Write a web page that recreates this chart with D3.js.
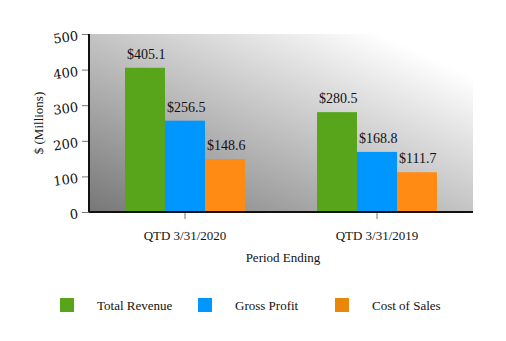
<!DOCTYPE html>
<html>
<head>
<meta charset="utf-8">
<script src="https://cdn.jsdelivr.net/npm/d3@7"></script>
<style>
  body { margin: 0; background: #fff; }
  text { font-family: "Liberation Serif", "DejaVu Serif", serif; fill: #111; }
</style>
</head>
<body>
<div id="chart"></div>
<script>
// data
const periods = ["QTD 3/31/2020", "QTD 3/31/2019"];
const seriesNames = ["Total Revenue", "Gross Profit", "Cost of Sales"];
const totalRevenue = [405.1, 280.5];
const grossProfit = [256.5, 168.8];
const costOfSales = [148.6, 111.7];
const yTicks = [0, 100, 200, 300, 400, 500];

const colors = ["#58a51c", "#0096ff", "#ff8a14"];
const legendColors = ["#58a51c", "#0096ff", "#ea860a"];

const width = 506, height = 341;
const margin = { top: 34, right: 33, bottom: 129, left: 89 };
const innerW = width - margin.left - margin.right;
const innerH = height - margin.top - margin.bottom;

const svg = d3.select("#chart")
    .append("svg")
    .attr("width", width)
    .attr("height", height);

// background gradient of the plot area
const defs = svg.append("defs");
const grad = defs.append("linearGradient")
    .attr("id", "bg")
    .attr("x1", 0).attr("y1", 1)
    .attr("x2", 1).attr("y2", 0);
grad.append("stop").attr("offset", "0%").attr("stop-color", "#777777");
grad.append("stop").attr("offset", "50%").attr("stop-color", "#c4c4c4");
grad.append("stop").attr("offset", "88%").attr("stop-color", "#ffffff");
grad.append("stop").attr("offset", "100%").attr("stop-color", "#ffffff");

const g = svg.append("g")
    .attr("transform", `translate(${margin.left},${margin.top})`);

g.append("rect")
    .attr("width", innerW)
    .attr("height", innerH)
    .attr("fill", "url(#bg)");

// scales
const x0 = d3.scaleBand()
    .domain(periods)
    .range([0, innerW])
    .paddingInner(0.375)
    .paddingOuter(0.1875);

const x1 = d3.scaleBand()
    .domain(seriesNames)
    .range([0, x0.bandwidth()]);

const y = d3.scaleLinear()
    .domain([0, 500])
    .range([innerH, 0]);

const rows = periods.map((p, i) => ({
    period: p,
    values: [totalRevenue[i], grossProfit[i], costOfSales[i]]
}));

// bars
const groups = g.selectAll(".grp")
    .data(rows)
    .join("g")
    .attr("transform", d => `translate(${x0(d.period)},0)`);

groups.selectAll("rect")
    .data(d => d.values.map((v, k) => ({ name: seriesNames[k], value: v, k: k })))
    .join("rect")
    .attr("x", d => x1(d.name))
    .attr("y", d => y(d.value))
    .attr("width", x1.bandwidth())
    .attr("height", d => innerH - y(d.value))
    .attr("fill", d => colors[d.k]);

groups.selectAll(".lbl")
    .data(d => d.values.map((v, k) => ({ name: seriesNames[k], value: v, k: k })))
    .join("text")
    .attr("class", "lbl")
    .attr("x", d => x1(d.name) + 2)
    .attr("y", d => y(d.value) - 9)
    .style("font-size", "14px")
    .text(d => "$" + d.value.toFixed(1));

// axes
const yAxis = g.append("g")
    .call(d3.axisLeft(y).tickValues(yTicks).tickSize(7).tickPadding(4));
yAxis.select(".domain").remove();
yAxis.selectAll(".tick line").attr("stroke", "#777");
yAxis.selectAll(".tick text")
    .style("font-size", "13px")
    .style("font-family", "'DejaVu Serif', serif")
    .attr("transform", "rotate(-8)");

const xAxis = g.append("g")
    .attr("transform", `translate(0,${innerH})`)
    .call(d3.axisBottom(x0).tickSize(7).tickPadding(12));
xAxis.select(".domain").remove();
xAxis.selectAll(".tick line").attr("stroke", "#777");
xAxis.selectAll(".tick text").style("font-size", "13px");

// axis lines
g.append("line")
    .attr("x1", 0).attr("x2", 0)
    .attr("y1", 0).attr("y2", innerH)
    .attr("stroke", "#111").attr("stroke-width", 2);
g.append("line")
    .attr("x1", 0).attr("x2", innerW)
    .attr("y1", innerH).attr("y2", innerH)
    .attr("stroke", "#111").attr("stroke-width", 2);

// axis titles
svg.append("text")
    .attr("transform", `translate(43,${margin.top + innerH / 2}) rotate(-90)`)
    .style("text-anchor", "middle")
    .style("font-size", "13px")
    .text("$ (Millions)");

svg.append("text")
    .attr("x", margin.left + innerW / 2 + 2)
    .attr("y", 262)
    .style("text-anchor", "middle")
    .style("font-size", "13px")
    .text("Period Ending");

// legend
const legendX = [60, 198, 335];
const legend = svg.selectAll(".leg")
    .data(seriesNames)
    .join("g")
    .attr("transform", (d, i) => `translate(${legendX[i]},298)`);
legend.append("rect")
    .attr("width", 14).attr("height", 14)
    .attr("fill", (d, i) => legendColors[i]);
legend.append("text")
    .attr("x", 37)
    .attr("y", 11.5)
    .style("font-size", "13px")
    .text(d => d);
</script>
</body>
</html>
